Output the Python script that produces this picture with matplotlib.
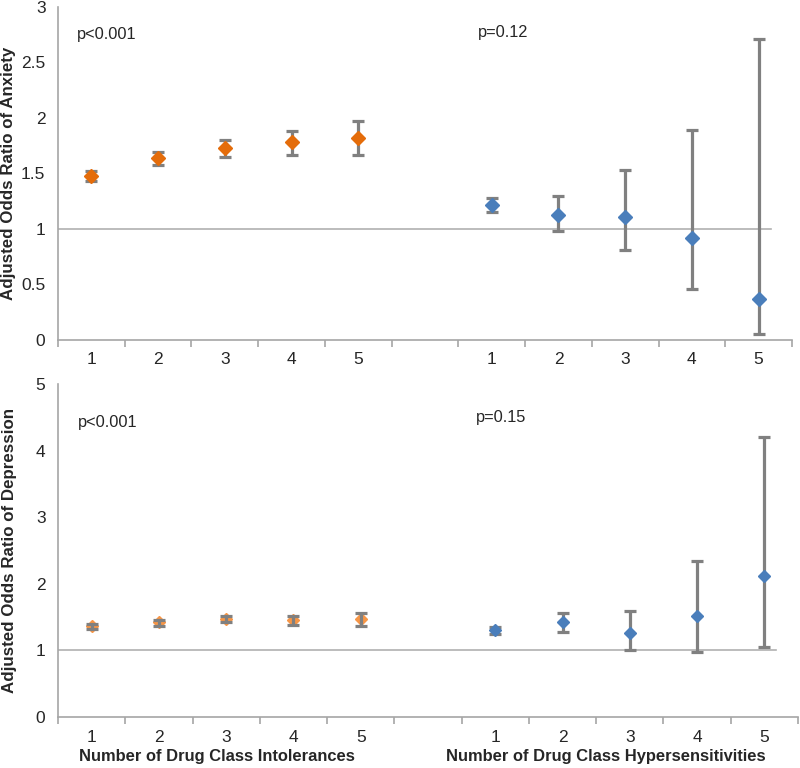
import matplotlib
matplotlib.use("Agg")
import matplotlib.pyplot as plt
import matplotlib.transforms as mtrans
import numpy as np

plt.rcParams['font.family'] = ['Liberation Sans', 'DejaVu Sans']

# Category labels (6th slot is a blank spacer)
cat_labels = ["1", "2", "3", "4", "5", "", "1", "2", "3", "4", "5"]

# Anxiety: intolerances (orange) and hypersensitivities (blue)
anx_int_or = [1.48, 1.64, 1.73, 1.78, 1.82]
anx_int_lo = [1.43, 1.58, 1.65, 1.67, 1.67]
anx_int_hi = [1.52, 1.69, 1.80, 1.88, 1.97]
anx_hyp_or = [1.22, 1.13, 1.11, 0.92, 0.37]
anx_hyp_lo = [1.15, 0.98, 0.81, 0.46, 0.05]
anx_hyp_hi = [1.28, 1.30, 1.53, 1.89, 2.71]

# Depression
dep_int_or = [1.36, 1.42, 1.47, 1.46, 1.47]
dep_int_lo = [1.32, 1.37, 1.42, 1.38, 1.37]
dep_int_hi = [1.40, 1.46, 1.51, 1.52, 1.56]
dep_hyp_or = [1.30, 1.42, 1.26, 1.52, 2.11]
dep_hyp_lo = [1.25, 1.28, 1.00, 0.98, 1.05]
dep_hyp_hi = [1.35, 1.56, 1.59, 2.34, 4.20]

ylabels = ["Adjusted Odds Ratio of Anxiety", "Adjusted Odds Ratio of Depression"]
pvals = [["p<0.001", "p=0.12"], ["p<0.001", "p=0.15"]]
xlabels = ["Number of Drug Class Intolerances", "Number of Drug Class Hypersensitivities"]

ORANGE_TOP = "#E46C0A"
ORANGE_BOT = "#F79646"
BLUE = "#4A7EBB"
ERR = "#808080"
AXC = "#A6A6A6"
TXT = "#262626"

fig = plt.figure(figsize=(8, 7.68), dpi=100)
ax1 = fig.add_axes([0.0725, 0.5573, 0.9175, 0.4336])
ax2 = fig.add_axes([0.0725, 0.0664, 0.925, 0.4336])

x_all = np.arange(1, len(cat_labels) + 1)
x_int = x_all[:5]
x_hyp = x_all[6:]

def style(ax, ymax, ystep):
    ax.set_xlim(0.5, len(cat_labels) + 0.5)
    ax.set_ylim(0, ymax)
    for s in ["top", "right"]:
        ax.spines[s].set_visible(False)
    for s in ["left", "bottom"]:
        ax.spines[s].set_color(AXC)
        ax.spines[s].set_linewidth(1.2)
    ax.set_xticks(np.arange(0.5, len(cat_labels) + 1, 1.0))
    ax.set_xticklabels([])
    ax.set_xticks(x_all, minor=True)
    ax.set_xticklabels(cat_labels, minor=True)
    ax.tick_params(axis='x', which='major', length=5, color=AXC, width=1.2, direction='out')
    ax.tick_params(axis='x', which='minor', length=0, labelsize=12.5, labelcolor=TXT, pad=9)
    ax.set_yticks(np.arange(0, ymax + 0.001, ystep))
    ax.tick_params(axis='y', length=0, labelsize=12.5, labelcolor=TXT, pad=9)
    ax.yaxis.set_major_formatter(matplotlib.ticker.FuncFormatter(lambda v, p: ('%g' % v)))
    ax.axhline(1, xmin=0, xmax=(11.18 - 0.5) / 11.0, color="#B0B0B0", lw=1.2, zorder=1)

def draw(ax, x, y, lo, hi, color, ms, err_on_top):
    y = np.array(y); lo = np.array(lo); hi = np.array(hi)
    ezo = 4 if err_on_top else 2
    mzo = 3 if err_on_top else 5
    ax.errorbar(x, y, yerr=[y - lo, hi - y], fmt='none', ecolor=ERR, elinewidth=2.3,
                capsize=4.2, capthick=2.3, zorder=ezo)
    ax.plot(x, y, linestyle='none', marker='D', markersize=ms, color=color,
            markeredgecolor=color, zorder=mzo)

style(ax1, 3, 0.5)
draw(ax1, x_int, anx_int_or, anx_int_lo, anx_int_hi, ORANGE_TOP, 6.8, False)
draw(ax1, x_hyp, anx_hyp_or, anx_hyp_lo, anx_hyp_hi, BLUE, 6.8, False)

style(ax2, 5, 1)
draw(ax2, x_int, dep_int_or, dep_int_lo, dep_int_hi, ORANGE_BOT, 6.2, True)
draw(ax2, x_hyp, dep_hyp_or, dep_hyp_lo, dep_hyp_hi, BLUE, 6.2, False)

ax1.set_ylabel(ylabels[0], fontsize=12.2, fontweight='bold', color=TXT, va='center')
ax2.set_ylabel(ylabels[1], fontsize=12.2, fontweight='bold', color=TXT, va='center')
ax1.yaxis.set_label_coords(-0.0668, 0.5)
ax2.yaxis.set_label_coords(-0.0662, 0.5)

ax1.text(0.026, 0.916, pvals[0][0], transform=ax1.transAxes, fontsize=11.8, color=TXT, va='center')
ax1.text(0.572, 0.922, pvals[0][1], transform=ax1.transAxes, fontsize=11.8, color=TXT, va='center')
ax2.text(0.027, 0.883, pvals[1][0], transform=ax2.transAxes, fontsize=11.8, color=TXT, va='center')
ax2.text(0.565, 0.898, pvals[1][1], transform=ax2.transAxes, fontsize=11.8, color=TXT, va='center')

tr = mtrans.blended_transform_factory(ax2.transData, ax2.transAxes)
ax2.text(2.86, -0.12, xlabels[0], transform=tr, ha='center', va='center',
         fontsize=11.9, fontweight='bold', color=TXT)
ax2.text(8.64, -0.12, xlabels[1], transform=tr, ha='center', va='center',
         fontsize=11.9, fontweight='bold', color=TXT)

fig.savefig("out.png", dpi=100)
